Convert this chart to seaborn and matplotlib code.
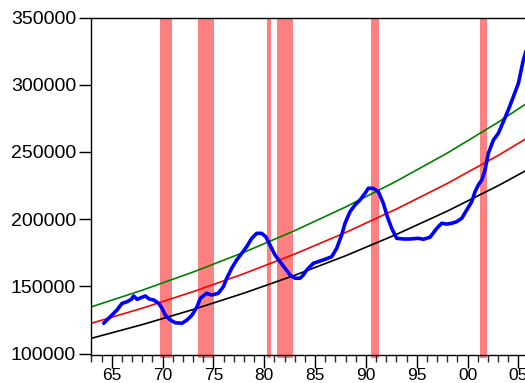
import numpy as np
import pandas as pd
import seaborn as sns
import matplotlib.pyplot as plt
from matplotlib.ticker import FixedLocator, MultipleLocator

# blue series
blue_years = [1964.21, 1964.86, 1965.52, 1966.01, 1966.50, 1966.93, 1967.16, 1967.49,
              1967.98, 1968.30, 1968.70, 1969.13, 1969.62, 1969.95, 1970.27, 1970.76,
              1971.25, 1971.91, 1972.40, 1972.90, 1973.39, 1973.71, 1974.34, 1974.83,
              1975.48, 1975.98, 1976.31, 1976.80, 1977.29, 1977.79, 1978.28, 1978.77,
              1979.26, 1979.75, 1980.15, 1980.57, 1981.06, 1981.55, 1982.05, 1982.54,
              1983.03, 1983.52, 1983.85, 1984.18, 1984.83, 1985.81, 1986.64, 1987.13,
              1987.62, 1987.95, 1988.44, 1988.93, 1989.42, 1989.92, 1990.24, 1990.73,
              1991.22, 1991.72, 1992.11, 1992.54, 1993.03, 1993.68, 1994.34, 1995.16,
              1995.65, 1996.31, 1996.97, 1997.46, 1997.95, 1998.45, 1998.94, 1999.43,
              1999.92, 2000.41, 2000.74, 2001.06, 2001.40, 2001.72, 2002.05, 2002.54,
              2003.03, 2003.52, 2004.01, 2004.51, 2005.00, 2005.49, 2005.75]
blue_values = [122500, 127400, 132400, 137300, 138500, 140300, 142800, 140300,
               141800, 142800, 140500, 139800, 137300, 133600, 128600, 124900,
               122900, 122500, 124900, 128600, 134800, 141000, 144800, 143500,
               144800, 149700, 155900, 163400, 169600, 174500, 179500, 185700,
               189400, 189400, 186900, 180700, 173300, 168300, 163400, 158400,
               156000, 156000, 158400, 162100, 167100, 169600, 172000, 178300,
               188200, 196900, 205500, 210500, 214200, 219200, 222900, 222900,
               220400, 211700, 201800, 193100, 185700, 185200, 185200, 185700,
               185000, 186500, 193100, 196900, 196300, 196900, 198100, 200600,
               206800, 212900, 220400, 225400, 229100, 236500, 249000, 258800,
               263800, 272500, 281200, 291100, 301000, 318400, 325000]

# trend lines
trend_years = [1963, 1968, 1973, 1978, 1983, 1988, 1993, 1998, 2003, 2008]
upper_band = [134700, 147100, 160600, 175300, 191400, 209000, 228200, 249100, 272000, 297000]
trend_mid = [122500, 133700, 146000, 159400, 174000, 190000, 207500, 226500, 247300, 270000]
lower_band = [111300, 121500, 132700, 144900, 158200, 172700, 188600, 205900, 224800, 245400]

# shaded recession periods
rec_start = [1969.78, 1973.49, 1980.28, 1981.26, 1990.51, 2001.23]
rec_end = [1970.90, 1975.06, 1980.67, 1982.81, 1991.27, 2001.89]

tick_years = [1965, 1970, 1975, 1980, 1985, 1990, 1995, 2000, 2005]
tick_labels = ["65", "70", "75", "80", "85", "90", "95", "00", "05"]
y_ticks = [100000, 150000, 200000, 250000, 300000, 350000]

sns.set_style("ticks")
plt.rcParams["font.family"] = ["Liberation Sans", "DejaVu Sans"]

W, H = 525, 383
fig = plt.figure(figsize=(W / 100, H / 100), dpi=100)
# axes runs past the right edge, like the cropped original
ax = fig.add_axes([91.4 / W, (H - 355) / H, 447.3 / W, (355 - 17.5) / H])

for s, e in zip(rec_start, rec_end):
    ax.axvspan(s, e, ymin=-0.008, ymax=1, color="#ff8080", lw=0, zorder=0, clip_on=False)

df_trend = pd.DataFrame({"year": trend_years, "upper": upper_band,
                         "mid": trend_mid, "lower": lower_band})
sns.lineplot(data=df_trend, x="year", y="upper", color="green", lw=1.2, ax=ax)
sns.lineplot(data=df_trend, x="year", y="mid", color="red", lw=1.2, ax=ax)
sns.lineplot(data=df_trend, x="year", y="lower", color="black", lw=1.2, ax=ax)

df_blue = pd.DataFrame({"year": blue_years, "value": blue_values})
sns.lineplot(data=df_blue, x="year", y="value", color="blue", lw=2.6,
             estimator=None, sort=False, ax=ax)

ax.set_xlim(1963, 2007)
ax.set_ylim(98884, 350000)
ax.set_xlabel("")
ax.set_ylabel("")

ax.xaxis.set_major_locator(FixedLocator(tick_years))
ax.set_xticklabels(tick_labels)
ax.xaxis.set_minor_locator(MultipleLocator(1))
ax.set_yticks(y_ticks)
ax.set_yticklabels([str(v) for v in y_ticks])

ax.tick_params(axis="y", direction="out", length=9, width=1, pad=2,
               labelsize=14, colors="black")
ax.tick_params(axis="x", which="major", direction="out", length=9, width=1,
               pad=0.5, labelsize=12.5, colors="black")
ax.tick_params(axis="x", which="minor", direction="out", length=5, width=1)

for side in ["left", "top", "bottom"]:
    ax.spines[side].set_visible(True)
    ax.spines[side].set_linewidth(1)
    ax.spines[side].set_color("black")
ax.spines["right"].set_visible(False)
ax.grid(False)

fig.savefig("out.png", dpi=100)
